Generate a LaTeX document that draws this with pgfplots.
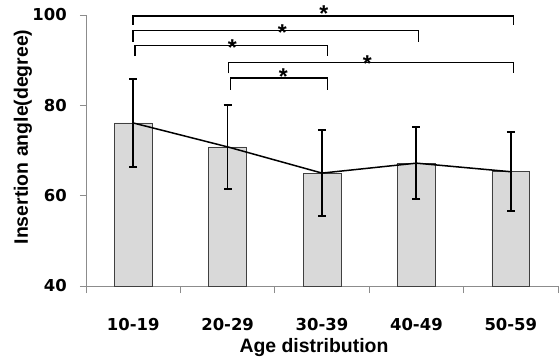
\documentclass[border=0pt]{standalone}
\usepackage{fontspec}
\setmainfont{Liberation Sans}
\newfontfamily\tickfont{DejaVu Sans}
\usepackage{pgfplots}
\pgfplotsset{compat=1.18}
\definecolor{barfill}{HTML}{D9D9D9}
\definecolor{axgray}{HTML}{8C8C8C}
\newcommand{\sig}[2]{\node[font=\fontsize{23}{24}\selectfont\bfseries, anchor=base, inner sep=0pt, yshift=-13bp] at (axis cs:#1,#2) {*};}
\newcommand{\brk}[5]{\draw[black, line width=1.5bp] (axis cs:#1,#4) -- (axis cs:#1,#3) -- (axis cs:#2,#3) -- (axis cs:#2,#5);}
\begin{document}
\begin{tikzpicture}
\begin{axis}[
  at={(0,0)}, anchor=south west,
  scale only axis, width=472bp, height=271bp,
  xmin=-0.5, xmax=4.5, ymin=40, ymax=100,
  axis x line*=bottom, axis y line*=left,
  axis line style={axgray, line width=0.8bp},
  clip mode=individual,
  ytick={40,60,80,100},
  xtick={0,1,2,3,4},
  xticklabels={10-19,20-29,30-39,40-49,50-59},
  major x tick style={draw=none},
  minor xtick={-0.5,0.5,1.5,2.5,3.5,4.5},
  tick align=outside,
  major tick length=6bp, minor tick length=7bp,
  tick style={axgray, line width=0.8bp},
  /pgf/number format/assume math mode=true,
  ticklabel style={font=\fontsize{16.5}{18}\tickfont\bfseries, inner sep=0pt},
  xticklabel style={anchor=north, yshift=-26bp},
  yticklabel style={anchor=east, xshift=-13bp},
  xlabel={Age distribution},
  ylabel={Insertion angle(degree)},
  label style={font=\fontsize{19.5}{21}\selectfont\bfseries, inner sep=0pt},
  xlabel style={at={(rel axis cs:0.483,0)}, anchor=base, yshift=-66bp},
  ylabel style={at={(rel axis cs:0,0.55)}, anchor=center, yshift=63bp},
]
\addplot[ybar, bar width=0.40, fill=barfill, draw=black!75, line width=0.7bp]
  coordinates {(0,76.1) (1,70.8) (2,65.0) (3,67.2) (4,65.3)};
\addplot[black, line width=1.5bp, mark=none,
  error bars/.cd, y dir=both, y explicit,
  error bar style={line width=1.8bp},
  error mark=|, error mark options={mark size=4bp, line width=1.8bp}]
  coordinates {(0,76.1) +- (0,9.7) (1,70.8) +- (0,9.3) (2,65.0) +- (0,9.5) (3,67.2) +- (0,8.0) (4,65.3) +- (0,8.75)};
\brk{0}{4.03}{99.8}{97.8}{97.8}
\brk{0}{3.02}{96.6}{94.1}{94.1}
\brk{0.02}{2.06}{93.2}{90.9}{90.9}
\brk{1.01}{4.03}{89.5}{87.1}{87.1}
\brk{1.03}{2.06}{86.0}{83.5}{83.5}
\sig{2.02}{101.5}
\sig{1.58}{97.3}
\sig{1.05}{94.0}
\sig{2.48}{90.3}
\sig{1.59}{87.4}
\end{axis}
\pgfresetboundingbox
\path (-86bp,-73bp) rectangle (474bp,286bp);
\end{tikzpicture}
\end{document}
